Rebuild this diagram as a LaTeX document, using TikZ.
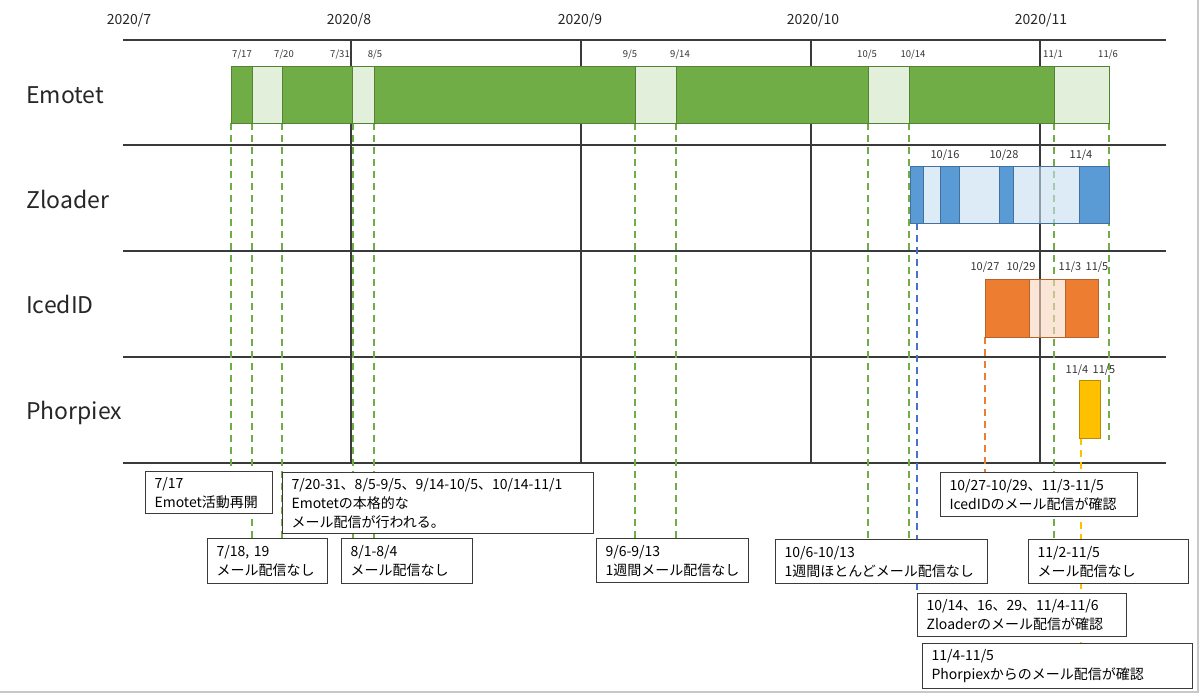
\documentclass[tikz,border=0pt]{standalone}
\usepackage{fontspec}
\setmainfont{Noto Sans CJK JP}
\usetikzlibrary{positioning}
\pgfdeclarelayer{front}
\pgfsetlayers{main,front}
\definecolor{emoDark}{HTML}{70AD47}
\definecolor{emoLight}{HTML}{CFE4C1}
\definecolor{emoLine}{HTML}{548235}
\definecolor{zloDark}{HTML}{5B9BD5}
\definecolor{zloLight}{HTML}{C6DEF2}
\definecolor{zloLine}{HTML}{41719C}
\definecolor{zloDash}{HTML}{4472C4}
\definecolor{icedDark}{HTML}{ED7D31}
\definecolor{icedLight}{HTML}{F8D4BB}
\definecolor{icedLine}{HTML}{B4642C}
\definecolor{phorFill}{HTML}{FFC000}
\definecolor{phorLine}{HTML}{BC8C00}
\definecolor{gridGray}{HTML}{3A3A3A}
\definecolor{frameGray}{HTML}{C8C8C8}
\newcommand{\BarSeg}[5]{\draw[#1] (#2,#4) rectangle (#3,#5);}

\begin{document}
\begin{tikzpicture}[x=1pt,y=-1pt,
    gridline/.style={draw=gridGray,line width=1.4pt},
    vdash/.style={dash pattern=on 7pt off 5pt,line width=1.8pt},
    emoD/.style={fill=emoDark,draw=emoLine,line width=1pt},
    emoL/.style={fill=emoLight,fill opacity=0.6,draw=emoLine,line width=1pt},
    zloD/.style={fill=zloDark,draw=zloLine,line width=1pt},
    zloL/.style={fill=zloLight,fill opacity=0.6,draw=zloLine,line width=1pt},
    icedD/.style={fill=icedDark,draw=icedLine,line width=1pt},
    icedL/.style={fill=icedLight,fill opacity=0.6,draw=icedLine,line width=1pt},
    note/.style={draw=gridGray,line width=1.1pt,fill=white,anchor=north west,
      align=left,inner xsep=9pt,inner ysep=0pt,
      font=\fontsize{14}{19}\selectfont},
    rowlabel/.style={anchor=base west,inner sep=0pt,text=black!85,
      font=\fontsize{23}{26}\selectfont},
    monthlabel/.style={anchor=base,inner sep=0pt,text=black!85,
      font=\fontsize{14}{16}\selectfont},
    datelabel/.style={anchor=base,inner sep=0pt,text=black!80,
      font=\fontsize{11}{12}\selectfont},
    emolabel/.style={datelabel,font=\fontsize{9.5}{11}\selectfont}]
  \useasboundingbox (0,0) rectangle (1200,694);
  \draw[frameGray,line width=1.5pt] (1198,0) -- (1198,692) -- (0,692);

  \draw[gridline] (123,40) -- (1166,40);
  \foreach \y in {145,251,357,463}
    \draw[gridline] (123,\y) -- (1166,\y);
  \foreach \x in {351,581,811,1040}
    \draw[gridline] (\x,40) -- (\x,463);

  \foreach \n/\x in {7/129,8/349,9/580,10/813,11/1041}
    \node[monthlabel] (month\n) at (\x,24) {2020/\n};

  \node[rowlabel] (emotet) at (26,103) {Emotet};
  \node[rowlabel] (zloader) at (26,208) {Zloader};
  \node[rowlabel] (icedid) at (26,313) {IcedID};
  \node[rowlabel] (phorpiex) at (26,419) {Phorpiex};

  \begin{pgfonlayer}{front}
  \node[note,text width=109pt,minimum height=42pt] (startnote) at (145,471)
    {7/17\\Emotet活動再開};
  \node[note,text width=293pt,minimum height=61pt] (mainnote) at (282,472)
    {7/20-31、8/5-9/5、9/14-10/5、10/14-11/1\\Emotetの本格的な\\メール配信が行われる。};
  \node[note,text width=102pt,minimum height=45pt] (gapnote1) at (207,538)
    {7/18, 19\\メール配信なし};
  \node[note,text width=113pt,minimum height=45pt] (gapnote2) at (341,538)
    {8/1-8/4\\メール配信なし};
  \node[note,text width=134pt,minimum height=44pt] (gapnote3) at (596,538)
    {9/6-9/13\\1週間メール配信なし};
  \node[note,text width=194pt,minimum height=44pt] (gapnote4) at (775,539)
    {10/6-10/13\\1週間ほとんどメール配信なし};
  \node[note,text width=179pt,minimum height=44pt] (icednote) at (940,472)
    {10/27-10/29、11/3-11/5\\IcedIDのメール配信が確認};
  \node[note,text width=142pt,minimum height=44pt] (gapnote5) at (1028,539)
    {11/2-11/5\\メール配信なし};
  \node[note,text width=191pt,minimum height=43pt] (zlonote) at (917,593)
    {10/14、16、29、11/4-11/6\\Zloaderのメール配信が確認};
  \node[note,text width=252pt,minimum height=45pt] (phornote) at (922,643)
    {11/4-11/5\\Phorpiexからのメール配信が確認};
  \end{pgfonlayer}

  \foreach \n/\x in {a/231,b/252,c/282,d/353,e/374,f/635,g/676,h/868,i/909,j/1054,k/1109}
    \coordinate (emo\n) at (\x,123);
  \coordinate (emoend) at (1109,440);
  \coordinate (zlo) at (917,223);
  \coordinate (iced) at (985,337);
  \coordinate (phor) at (1081,438);

  \draw[vdash,emoDark] (emoa) -- (emoa |- startnote.north);
  \draw[vdash,emoDark] (emob) -- (emob |- gapnote1.north);
  \draw[vdash,emoDark] (emoc) -- (emoc |- gapnote1.north);
  \draw[vdash,emoDark] (emod) -- (emod |- gapnote2.north);
  \draw[vdash,emoDark] (emoe) -- (emoe |- gapnote2.north);
  \draw[vdash,emoDark] (emof) -- (emof |- gapnote3.north);
  \draw[vdash,emoDark] (emog) -- (emog |- gapnote3.north);
  \draw[vdash,emoDark] (emoh) -- (emoh |- gapnote4.north);
  \draw[vdash,emoDark] (emoi) -- (emoi |- gapnote4.north);
  \draw[vdash,emoDark] (emoj) -- (emoj |- gapnote5.north);
  \draw[vdash,emoDark] (emok) -- (emoend);
  \draw[vdash,zloDash] (zlo) -- (zlo |- zlonote.north);
  \draw[vdash,icedDark] (iced) -- (iced |- icednote.north);
  \draw[vdash,phorFill] (phor) -- (phor |- phornote.north);

  \BarSeg{emoD}{231}{252}{66}{123}
  \BarSeg{emoL}{252}{282}{66}{123}
  \BarSeg{emoD}{282}{352}{66}{123}
  \BarSeg{emoL}{352}{374}{66}{123}
  \BarSeg{emoD}{374}{635}{66}{123}
  \BarSeg{emoL}{635}{676}{66}{123}
  \BarSeg{emoD}{676}{868}{66}{123}
  \BarSeg{emoL}{868}{909}{66}{123}
  \BarSeg{emoD}{909}{1054}{66}{123}
  \BarSeg{emoL}{1054}{1109}{66}{123}

  \BarSeg{zloD}{910}{923}{166}{223}
  \BarSeg{zloL}{923}{940}{166}{223}
  \BarSeg{zloD}{940}{959}{166}{223}
  \BarSeg{zloL}{959}{999}{166}{223}
  \BarSeg{zloD}{999}{1013}{166}{223}
  \BarSeg{zloL}{1013}{1079}{166}{223}
  \BarSeg{zloD}{1079}{1109}{166}{223}

  \BarSeg{icedD}{985}{1029}{279}{337}
  \BarSeg{icedL}{1029}{1065}{279}{337}
  \BarSeg{icedD}{1065}{1098}{279}{337}

  \draw[fill=phorFill,draw=phorLine,line width=1pt] (1079,380) rectangle (1100,438);

  \foreach \n/\x/\t in {a/242/7\slash 17,b/284/7\slash 20,c/340/7\slash 31,d/375/8\slash 5,
      e/630/9\slash 5,f/680/9\slash 14,g/867/10\slash 5,h/913/10\slash 14,
      i/1053/11\slash 1,j/1108/11\slash 6}
    \node[emolabel] (emodate\n) at (\x,57) {\t};
  \foreach \n/\x/\t in {a/945/10\slash 16,b/1004/10\slash 28,c/1081/11\slash 4}
    \node[datelabel] (zlodate\n) at (\x,158) {\t};
  \foreach \n/\x/\t in {a/985/10\slash 27,b/1021/10\slash 29,c/1070/11\slash 3,d/1097/11\slash 5}
    \node[datelabel] (iceddate\n) at (\x,270) {\t};
  \foreach \n/\x/\t in {a/1077/11\slash 4,b/1104/11\slash 5}
    \node[datelabel] (phordate\n) at (\x,373) {\t};
\end{tikzpicture}
\end{document}
